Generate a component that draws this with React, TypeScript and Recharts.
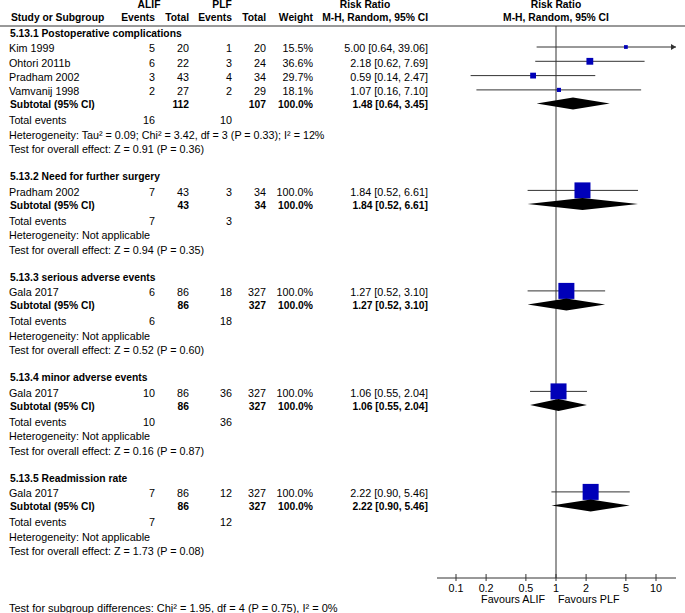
import React from "react";
import { ScatterChart, Scatter, XAxis, YAxis, ReferenceLine, ReferenceDot } from "recharts";

// subgroups
const sectionTitles = [
  "5.13.1 Postoperative complications",
  "5.13.2 Need for further surgery",
  "5.13.3 serious adverse events",
  "5.13.4 minor adverse events",
  "5.13.5 Readmission rate",
];

// studies (section index, name, ALIF events/total, PLF events/total, weight, RR + CI)
const studySection = [0, 0, 0, 0, 1, 2, 3, 4];
const studyNames = ["Kim 1999", "Ohtori 2011b", "Pradham 2002", "Vamvanij 1998", "Pradham 2002", "Gala 2017", "Gala 2017", "Gala 2017"];
const alifEvents = [5, 6, 3, 2, 7, 6, 10, 7];
const alifTotal = [20, 22, 43, 27, 43, 86, 86, 86];
const plfEvents = [1, 3, 4, 2, 3, 18, 36, 12];
const plfTotal = [20, 24, 34, 29, 34, 327, 327, 327];
const weights = [15.5, 36.6, 29.7, 18.1, 100, 100, 100, 100];
const rr = [5.0, 2.18, 0.59, 1.07, 1.84, 1.27, 1.06, 2.22];
const rrLow = [0.64, 0.62, 0.14, 0.16, 0.52, 0.52, 0.55, 0.9];
const rrHigh = [39.06, 7.69, 2.47, 7.1, 6.61, 3.1, 2.04, 5.46];

// subtotals
const subAlifTotal = [112, 43, 86, 86, 86];
const subPlfTotal = [107, 34, 327, 327, 327];
const subRR = [1.48, 1.84, 1.27, 1.06, 2.22];
const subLow = [0.64, 0.52, 0.52, 0.55, 0.9];
const subHigh = [3.45, 6.61, 3.1, 2.04, 5.46];
const eventsAlif = [16, 7, 6, 10, 7];
const eventsPlf = [10, 3, 18, 36, 12];
const heterogeneity = [
  "Heterogeneity: Tau² = 0.09; Chi² = 3.42, df = 3 (P = 0.33); I² = 12%",
  "Heterogeneity: Not applicable",
  "Heterogeneity: Not applicable",
  "Heterogeneity: Not applicable",
  "Heterogeneity: Not applicable",
];
const overallEffect = [
  "Test for overall effect: Z = 0.91 (P = 0.36)",
  "Test for overall effect: Z = 0.94 (P = 0.35)",
  "Test for overall effect: Z = 0.52 (P = 0.60)",
  "Test for overall effect: Z = 0.16 (P = 0.87)",
  "Test for overall effect: Z = 1.73 (P = 0.08)",
];
const subgroupTest = "Test for subgroup differences: Chi² = 1.95, df = 4 (P = 0.75), I² = 0%";

const xTicks = [0.1, 0.2, 0.5, 1, 2, 5, 10];

const W = 685;
const H = 613;
const FONT = "'Liberation Sans', Arial, sans-serif";
const FS = 10.75;
const FS_BOLD = 10.3;
const INK = "#000";
const BOX = "#0000B8";
const LINE = "#333";
const X_MIN = Math.pow(10, -1.19);
const X_MAX = Math.pow(10, 1.2);
const Y_MAX = 578;
const RULE_Y = 26;
const MARK_DY = -1.5;
const COL = { name: 9, aEv: 155, aTot: 189, pEv: 232, pTot: 266, weight: 313, rr: 428 };

const fmtCI = (r: number, l: number, h: number) => `${r.toFixed(2)} [${l.toFixed(2)}, ${h.toFixed(2)}]`;

type Row = { x: number; y: number; kind: string; i: number };

// row layout
const rows: Row[] = [
  { x: 1, y: 4.5, kind: "head1", i: 0 },
  { x: 1, y: 17.5, kind: "head2", i: 0 },
  { x: 1, y: RULE_Y, kind: "rule", i: 0 },
];
const studyY: number[] = [];
const subY: number[] = [];
let top = 33;
sectionTitles.forEach((_, s) => {
  rows.push({ x: 1, y: top, kind: "title", i: s });
  const idx = studyNames.map((_, i) => i).filter((i) => studySection[i] === s);
  idx.forEach((i, k) => {
    studyY[i] = top + 15.5 + k * 14.3;
    rows.push({ x: 1, y: studyY[i], kind: "study", i });
  });
  const sy = studyY[idx[idx.length - 1]] + 13;
  subY[s] = sy;
  rows.push({ x: 1, y: sy, kind: "subtotal", i: s });
  rows.push({ x: 1, y: sy + 16, kind: "events", i: s });
  rows.push({ x: 1, y: sy + 30.5, kind: "het", i: s });
  rows.push({ x: 1, y: sy + 45, kind: "effect", i: s });
  top = sy + 72;
});

function T({ x, y, children, anchor = "start", bold = false, size }: any) {
  return (
    <text
      x={x}
      y={y}
      textAnchor={anchor}
      fontFamily={FONT}
      fontSize={size || (bold ? FS_BOLD : FS)}
      fontWeight={bold ? "bold" : "normal"}
      fill={INK}
    >
      {children}
    </text>
  );
}

function RowShape(props: any) {
  const { cx, cy, payload } = props;
  const r = payload as Row;
  const b = cy + 3.7;
  const i = r.i;
  switch (r.kind) {
    case "head1":
      return (
        <g>
          <T x={149} y={b} anchor="middle" bold>ALIF</T>
          <T x={222} y={b} anchor="middle" bold>PLF</T>
          <T x={365} y={b} anchor="middle" bold>Risk Ratio</T>
          <T x={cx} y={b} anchor="middle" bold>Risk Ratio</T>
        </g>
      );
    case "head2":
      return (
        <g>
          <T x={COL.name + 2} y={b} bold>Study or Subgroup</T>
          <T x={COL.aEv} y={b} anchor="end" bold>Events</T>
          <T x={COL.aTot} y={b} anchor="end" bold>Total</T>
          <T x={COL.pEv} y={b} anchor="end" bold>Events</T>
          <T x={COL.pTot} y={b} anchor="end" bold>Total</T>
          <T x={COL.weight} y={b} anchor="end" bold>Weight</T>
          <T x={COL.rr} y={b} anchor="end" bold>M-H, Random, 95% CI</T>
          <T x={cx} y={b} anchor="middle" bold>M-H, Random, 95% CI</T>
        </g>
      );
    case "rule":
      return <line x1={0} x2={W} y1={cy} y2={cy} stroke={LINE} strokeWidth={1} />;
    case "title":
      return <T x={COL.name + 1} y={b} bold>{sectionTitles[i]}</T>;
    case "study":
      return (
        <g>
          <T x={COL.name} y={b}>{studyNames[i]}</T>
          <T x={COL.aEv} y={b} anchor="end">{alifEvents[i]}</T>
          <T x={COL.aTot} y={b} anchor="end">{alifTotal[i]}</T>
          <T x={COL.pEv} y={b} anchor="end">{plfEvents[i]}</T>
          <T x={COL.pTot} y={b} anchor="end">{plfTotal[i]}</T>
          <T x={COL.weight} y={b} anchor="end">{weights[i].toFixed(1)}%</T>
          <T x={COL.rr} y={b} anchor="end">{fmtCI(rr[i], rrLow[i], rrHigh[i])}</T>
        </g>
      );
    case "subtotal":
      return (
        <g>
          <T x={COL.name + 1} y={b} bold>Subtotal (95% CI)</T>
          <T x={COL.aTot} y={b} anchor="end" bold>{subAlifTotal[i]}</T>
          <T x={COL.pTot} y={b} anchor="end" bold>{subPlfTotal[i]}</T>
          <T x={COL.weight} y={b} anchor="end" bold>100.0%</T>
          <T x={COL.rr} y={b} anchor="end" bold>{fmtCI(subRR[i], subLow[i], subHigh[i])}</T>
        </g>
      );
    case "events":
      return (
        <g>
          <T x={COL.name} y={b}>Total events</T>
          <T x={COL.aEv} y={b} anchor="end">{eventsAlif[i]}</T>
          <T x={COL.pEv} y={b} anchor="end">{eventsPlf[i]}</T>
        </g>
      );
    case "het":
      return <T x={COL.name} y={b}>{heterogeneity[i]}</T>;
    case "effect":
      return <T x={COL.name} y={b}>{overallEffect[i]}</T>;
    default:
      return <g />;
  }
}

function Square(props: any) {
  const { cx, cy, payload } = props;
  const s = 1.5 + 0.145 * payload.w;
  return <rect x={cx - s / 2} y={cy - s / 2} width={s} height={s} fill={BOX} />;
}

const Empty = () => <g />;

function AxisTick(props: any) {
  const { x, y, payload } = props;
  return (
    <g>
      <line x1={x} x2={x} y1={y - 4} y2={y + 3} stroke={LINE} />
      <T x={x} y={y + 13.5} anchor="middle">{payload.value}</T>
      {payload.value === 1 && (
        <g>
          <T x={x - 11} y={y + 24.5} anchor="end">Favours ALIF</T>
          <T x={x + 2} y={y + 24.5}>Favours PLF</T>
        </g>
      )}
    </g>
  );
}

const squares = studyNames.map((_, i) => ({ x: rr[i], y: studyY[i] + MARK_DY, w: weights[i] }));

export default function App() {
  return (
    <div style={{ position: "absolute", left: 0, top: 0, width: W, height: H, background: "#fff" }}>
      <ScatterChart width={W} height={H} margin={{ top: 0, right: 9, bottom: 0, left: 437 }}>
        <XAxis
          dataKey="x"
          type="number"
          scale="log"
          domain={[X_MIN, X_MAX]}
          ticks={xTicks}
          interval={0}
          height={35}
          tickSize={0}
          tickMargin={0}
          tickLine={false}
          axisLine={{ stroke: LINE }}
          tick={(p: any) => <AxisTick {...p} />}
        />
        <XAxis xAxisId="clip" dataKey="x" type="number" scale="log" domain={[X_MIN, X_MAX]} allowDataOverflow hide />
        <YAxis dataKey="y" type="number" domain={[0, Y_MAX]} reversed hide />
        <ReferenceLine
          segment={[{ x: 1, y: RULE_Y }, { x: 1, y: Y_MAX }]}
          stroke={LINE}
          ifOverflow="visible"
        />
        <Scatter data={rows} shape={(p: any) => <RowShape {...p} />} isAnimationActive={false} />
        {studyNames.map((_, i) => (
          <Scatter
            key={`ci-${i}`}
            xAxisId="clip"
            data={[
              { x: rrLow[i], y: studyY[i] + MARK_DY },
              { x: rrHigh[i], y: studyY[i] + MARK_DY },
            ]}
            line={{ stroke: LINE, strokeWidth: 1 }}
            shape={Empty}
            isAnimationActive={false}
          />
        ))}
        {studyNames.map((_, i) =>
          rrHigh[i] > X_MAX ? (
            <ReferenceDot
              key={`arrow-${i}`}
              xAxisId="clip"
              x={X_MAX}
              y={studyY[i] + MARK_DY}
              ifOverflow="visible"
              shape={(p: any) => (
                <polygon
                  points={`${p.cx},${p.cy} ${p.cx - 5},${p.cy - 3} ${p.cx - 5},${p.cy + 3}`}
                  fill={LINE}
                />
              )}
            />
          ) : null
        )}
        <Scatter data={squares} shape={(p: any) => <Square {...p} />} isAnimationActive={false} />
        {sectionTitles.map((_, s) => (
          <Scatter
            key={`dia-${s}`}
            data={[
              { x: subLow[s], y: subY[s] - 1 },
              { x: subRR[s], y: subY[s] - 7 },
              { x: subHigh[s], y: subY[s] - 1 },
              { x: subRR[s], y: subY[s] + 5 },
            ]}
            line={{ fill: "#000", stroke: "none" }}
            shape={Empty}
            isAnimationActive={false}
          />
        ))}
      </ScatterChart>
      <svg width={W} height={H} style={{ position: "absolute", left: 0, top: 0, pointerEvents: "none" }}>
        <T x={9} y={611.5} size={11}>{subgroupTest}</T>
      </svg>
    </div>
  );
}
